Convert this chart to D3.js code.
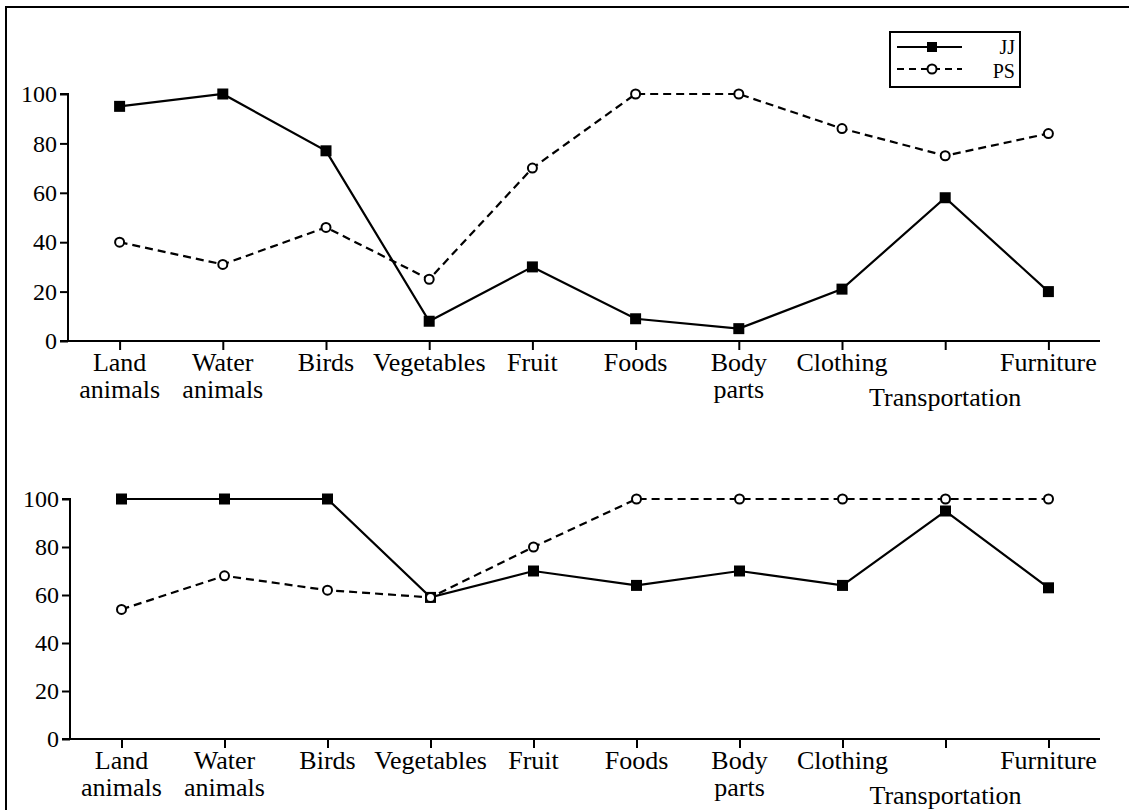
<!DOCTYPE html>
<html>
<head>
<meta charset="utf-8">
<script src="https://cdn.jsdelivr.net/npm/d3@7"></script>
<style>
  body { margin: 0; background: #fff; }
  svg { display: block; font-family: "Liberation Serif", "Times New Roman", serif; }
</style>
</head>
<body>
<div id="chart"></div>
<script>
var categories = ["Land animals", "Water animals", "Birds", "Vegetables", "Fruit", "Foods", "Body parts", "Clothing", "Transportation", "Furniture"];
var labelLines = [["Land", "animals"], ["Water", "animals"], ["Birds"], ["Vegetables"], ["Fruit"], ["Foods"], ["Body", "parts"], ["Clothing"], ["", "Transportation"], ["Furniture"]];
var yTicks = [0, 20, 40, 60, 80, 100];

// top panel
var topJJ = [95, 100, 77, 8, 30, 9, 5, 21, 58, 20];
var topPS = [40, 31, 46, 25, 70, 100, 100, 86, 75, 84];
// bottom panel
var botJJ = [100, 100, 100, 59, 70, 64, 70, 64, 95, 63];
var botPS = [54, 68, 62, 59, 80, 100, 100, 100, 100, 100];

var W = 1129, H = 810;

var svg = d3.select('#chart')
	.append('svg')
	.attr('width', W)
	.attr('height', H);

// frame (left + top)
svg.append('path')
	.attr('d', 'M6,810 L6,7 L1129,7')
	.attr('fill', 'none')
	.attr('stroke', '#000')
	.attr('stroke-width', 2);

function panel(jj, ps, left, top, bottom) {
	var x = d3.scalePoint()
		.domain(categories)
		.range([left, 1100])
		.padding(0.5);
	var y = d3.scaleLinear()
		.domain([0, 100])
		.range([bottom, top]);

	var g = svg.append('g');

	// y axis
	var yAxis = g.append('g')
		.attr('transform', `translate(${left},0)`)
		.call(d3.axisLeft(y).tickValues(yTicks).tickSize(8).tickPadding(3));
	yAxis.select('.domain').attr('d', `M-8,${bottom}H0V${top}H-8`);

	// x axis
	var xAxis = g.append('g')
		.attr('transform', `translate(0,${bottom})`)
		.call(d3.axisBottom(x).tickSize(9).tickFormat(''));
	xAxis.select('.domain').attr('d', `M${left},0H1100`);

	g.selectAll('.domain, .tick line')
		.attr('stroke', '#000')
		.attr('stroke-width', 2);
	yAxis.selectAll('text')
		.attr('font-family', '"Liberation Serif", serif')
		.attr('font-size', 24)
		.attr('fill', '#000');

	// category labels
	var lab = g.selectAll('.cat')
		.data(categories)
		.enter().append('text')
		.attr('class', 'cat')
		.attr('text-anchor', 'middle')
		.attr('font-size', 26)
		.attr('fill', '#000')
		.attr('transform', (d) => `translate(${x(d)},${bottom})`);
	lab.each(function(d, i) {
		var t = d3.select(this);
		labelLines[i].forEach(function(s, j) {
			if (!s) return;
			var dy = j === 0 ? 30 : (labelLines[i][0] ? 57 : 65);
			t.append('tspan').attr('x', 0).attr('y', dy).text(s);
		});
	});

	var line = d3.line()
		.x((d, i) => x(categories[i]))
		.y((d) => y(d));

	// PS dashed
	g.append('path')
		.datum(ps)
		.attr('d', line)
		.attr('fill', 'none')
		.attr('stroke', '#000')
		.attr('stroke-width', 2.2)
		.attr('stroke-dasharray', '8,5');

	// JJ solid
	g.append('path')
		.datum(jj)
		.attr('d', line)
		.attr('fill', 'none')
		.attr('stroke', '#000')
		.attr('stroke-width', 2.2);

	g.selectAll('.sq')
		.data(jj)
		.enter().append('rect')
		.attr('class', 'sq')
		.attr('x', (d, i) => x(categories[i]) - 5.5)
		.attr('y', (d) => y(d) - 5.5)
		.attr('width', 11)
		.attr('height', 11)
		.attr('fill', '#000');

	g.selectAll('.ci')
		.data(ps)
		.enter().append('circle')
		.attr('class', 'ci')
		.attr('cx', (d, i) => x(categories[i]))
		.attr('cy', (d) => y(d))
		.attr('r', 4.5)
		.attr('fill', '#fff')
		.attr('stroke', '#000')
		.attr('stroke-width', 2);
}

panel(topJJ, topPS, 68, 94, 341);
panel(botJJ, botPS, 70, 499, 739);

// legend
var leg = svg.append('g');
leg.append('rect')
	.attr('x', 890).attr('y', 32)
	.attr('width', 130).attr('height', 55)
	.attr('fill', '#fff')
	.attr('stroke', '#000')
	.attr('stroke-width', 2);
leg.append('line')
	.attr('x1', 897).attr('x2', 962).attr('y1', 47).attr('y2', 47)
	.attr('stroke', '#000').attr('stroke-width', 2);
leg.append('rect')
	.attr('x', 927).attr('y', 42).attr('width', 10).attr('height', 10)
	.attr('fill', '#000');
leg.append('line')
	.attr('x1', 897).attr('x2', 962).attr('y1', 69).attr('y2', 69)
	.attr('stroke', '#000').attr('stroke-width', 2)
	.attr('stroke-dasharray', '7,5');
leg.append('circle')
	.attr('cx', 932).attr('cy', 69).attr('r', 4.5)
	.attr('fill', '#fff').attr('stroke', '#000').attr('stroke-width', 2);
leg.append('text')
	.attr('x', 1015).attr('y', 54)
	.attr('text-anchor', 'end')
	.attr('font-size', 20)
	.text('JJ');
leg.append('text')
	.attr('x', 1015).attr('y', 78)
	.attr('text-anchor', 'end')
	.attr('font-size', 20)
	.text('PS');
</script>
</body>
</html>
